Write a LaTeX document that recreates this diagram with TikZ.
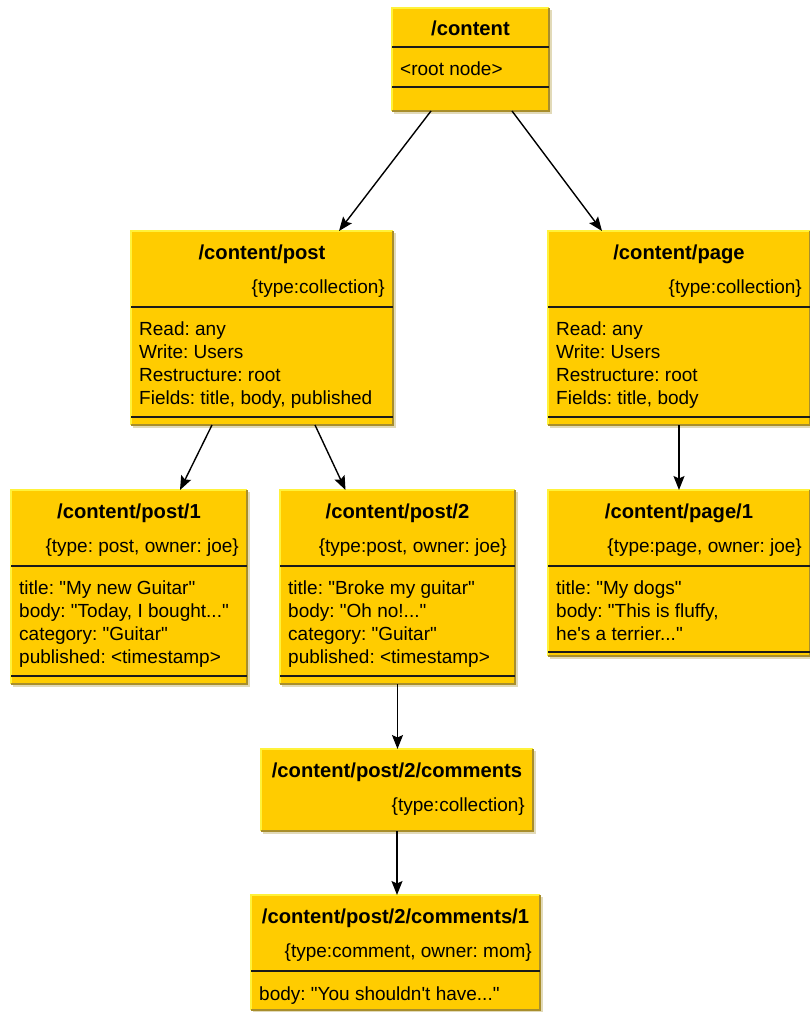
\documentclass[tikz,border=0pt]{standalone}
\usepackage{fontspec}
\setmainfont{Liberation Sans}
\usetikzlibrary{arrows.meta}
\frenchspacing

\definecolor{boxfill}{HTML}{FFCC00}
\definecolor{boxlight}{HTML}{FFF23A}
\definecolor{boxdark}{HTML}{A88E2C}
\definecolor{boxshade}{HTML}{E2DAB8}
\definecolor{rulecol}{HTML}{1A1A1A}

% three full stops, kept out of \foreach's range syntax
\newcommand{\trail}{...}
% straight double quote
\newcommand{\qq}{\textquotedbl}

% box with bevelled edge and a soft drop shadow: name, left, top, right, bottom
\newcommand{\ybox}[5]{%
  \fill[boxshade] (#2+2,#3+2) rectangle (#4+3,#5+3);
  \node[boxbody, minimum width={(#4-#2)*1pt}, minimum height={(#5-#3)*1pt}]
    (#1) at ({(#2+#4)/2},{(#3+#5)/2}) {};
  \draw[edgelight] (#1.south west) -- (#1.north west) -- (#1.north east);
  \draw[edgedark] (#1.north east) -- (#1.south east) -- (#1.south west);
}
% horizontal compartment rule, offset measured from the box top
\newcommand{\divider}[2]{%
  \draw[divline] ([yshift=-#2pt]#1.north west) -- ([yshift=-#2pt]#1.north east);}
% left-aligned attribute lines, first baseline offset from the box top
\newcommand{\fieldlines}[3]{%
  \foreach \ln [count=\k from 0] in {#3} {
    \node[fld] (#1-f\k) at ([xshift=8pt,yshift={-(#2+23.3*\k)*1pt}]#1.north west) {\ln};
  }}
% centred bold title and right-aligned type line
\newcommand{\boxtitle}[2]{%
  \node[ttl] (#1-t) at ([yshift=-28pt]#1.north) {#2};}
\newcommand{\boxtype}[2]{%
  \node[typ] (#1-y) at ([xshift=-8pt,yshift=-62pt]#1.north east) {#2};}

\tikzset{
  boxbody/.style={rectangle, fill=boxfill, draw=none, inner sep=0pt, outer sep=0pt},
  edgelight/.style={boxlight, line width=1.4pt},
  edgedark/.style={boxdark, line width=1.2pt},
  divline/.style={rulecol, line width=1.5pt},
  ttl/.style={font=\fontsize{20.2}{24}\selectfont\bfseries, inner sep=0pt, anchor=base},
  typ/.style={font=\fontsize{19}{23}\selectfont, inner sep=0pt, anchor=base east},
  fld/.style={font=\fontsize{19}{23}\selectfont, inner sep=0pt, anchor=base west},
  link/.style={black, line width=1.4pt, -{Stealth[length=14pt,width=11pt,inset=2.5pt]}},
}

\begin{document}
\begin{tikzpicture}[x=1pt, y=-1pt]
\fill[white] (0,0) rectangle (810,1012);
\useasboundingbox (0,0) rectangle (810,1012);

% root
\ybox{root}{392}{8}{549}{111}
\node[ttl] (root-t) at ([yshift=-27pt]root.north) {/content};
\divider{root}{39}
\node[fld] (root-f0) at ([xshift=8pt,yshift=-67pt]root.north west) {<root node>};
\divider{root}{79}

% collections
\ybox{post}{131}{231}{393}{425}
\boxtitle{post}{/content/post}
\boxtype{post}{\{type:collection\}}
\divider{post}{76}
\fieldlines{post}{104}{{Read: any}, {Write: Users}, {Restructure: root}, {Fields: title, body, published}}
\divider{post}{186}

\ybox{page}{548}{231}{810}{425}
\boxtitle{page}{/content/page}
\boxtype{page}{\{type:collection\}}
\divider{page}{76}
\fieldlines{page}{104}{{Read: any}, {Write: Users}, {Restructure: root}, {Fields: title, body}}
\divider{page}{186}

% documents
\ybox{post1}{11}{490}{247}{684}
\boxtitle{post1}{/content/post/1}
\boxtype{post1}{\{type: post, owner: joe\}}
\divider{post1}{76}
\fieldlines{post1}{104}{{title: \qq My new Guitar\qq}, {body: \qq Today, I bought\trail\qq}, {category: \qq Guitar\qq}, {published: <timestamp>}}
\divider{post1}{186}

\ybox{post2}{280}{490}{515}{684}
\boxtitle{post2}{/content/post/2}
\boxtype{post2}{\{type:post, owner: joe\}}
\divider{post2}{76}
\fieldlines{post2}{104}{{title: \qq Broke my guitar\qq}, {body: \qq Oh no!\trail\qq}, {category: \qq Guitar\qq}, {published: <timestamp>}}
\divider{post2}{186}

\ybox{page1}{548}{490}{810}{656}
\boxtitle{page1}{/content/page/1}
\boxtype{page1}{\{type:page, owner: joe\}}
\divider{page1}{76}
\fieldlines{page1}{104}{{title: \qq My dogs\qq}, {body: \qq This is fluffy,}, {he\textquotesingle s a terrier\trail\qq}}
\divider{page1}{162}

% comments
\ybox{comments}{261}{749}{533}{831}
\boxtitle{comments}{/content/post/2/comments}
\boxtype{comments}{\{type:collection\}}

\ybox{comment1}{251}{895}{540}{1010}
\boxtitle{comment1}{/content/post/2/comments/1}
\boxtype{comment1}{\{type:comment, owner: mom\}}
\divider{comment1}{76}
\fieldlines{comment1}{105}{{body: \qq You shouldn\textquotesingle t have\trail\qq}}

% hierarchy links
\draw[link] ([xshift=-39.5pt]root.south) -- ([xshift=77pt]post.north);
\draw[link] ([xshift=41.5pt]root.south) -- ([xshift=-77pt]page.north);
\draw[link] ([xshift=-50pt]post.south) -- ([xshift=51pt]post1.north);
\draw[link] ([xshift=53pt]post.south) -- ([xshift=-52pt]post2.north);
\draw[link] (page.south) -- (page1.north);
\draw[link] (post2.south) -- (post2.south |- comments.north);
\draw[link] (comments.south) -- (comments.south |- comment1.north);
\end{tikzpicture}
\end{document}
